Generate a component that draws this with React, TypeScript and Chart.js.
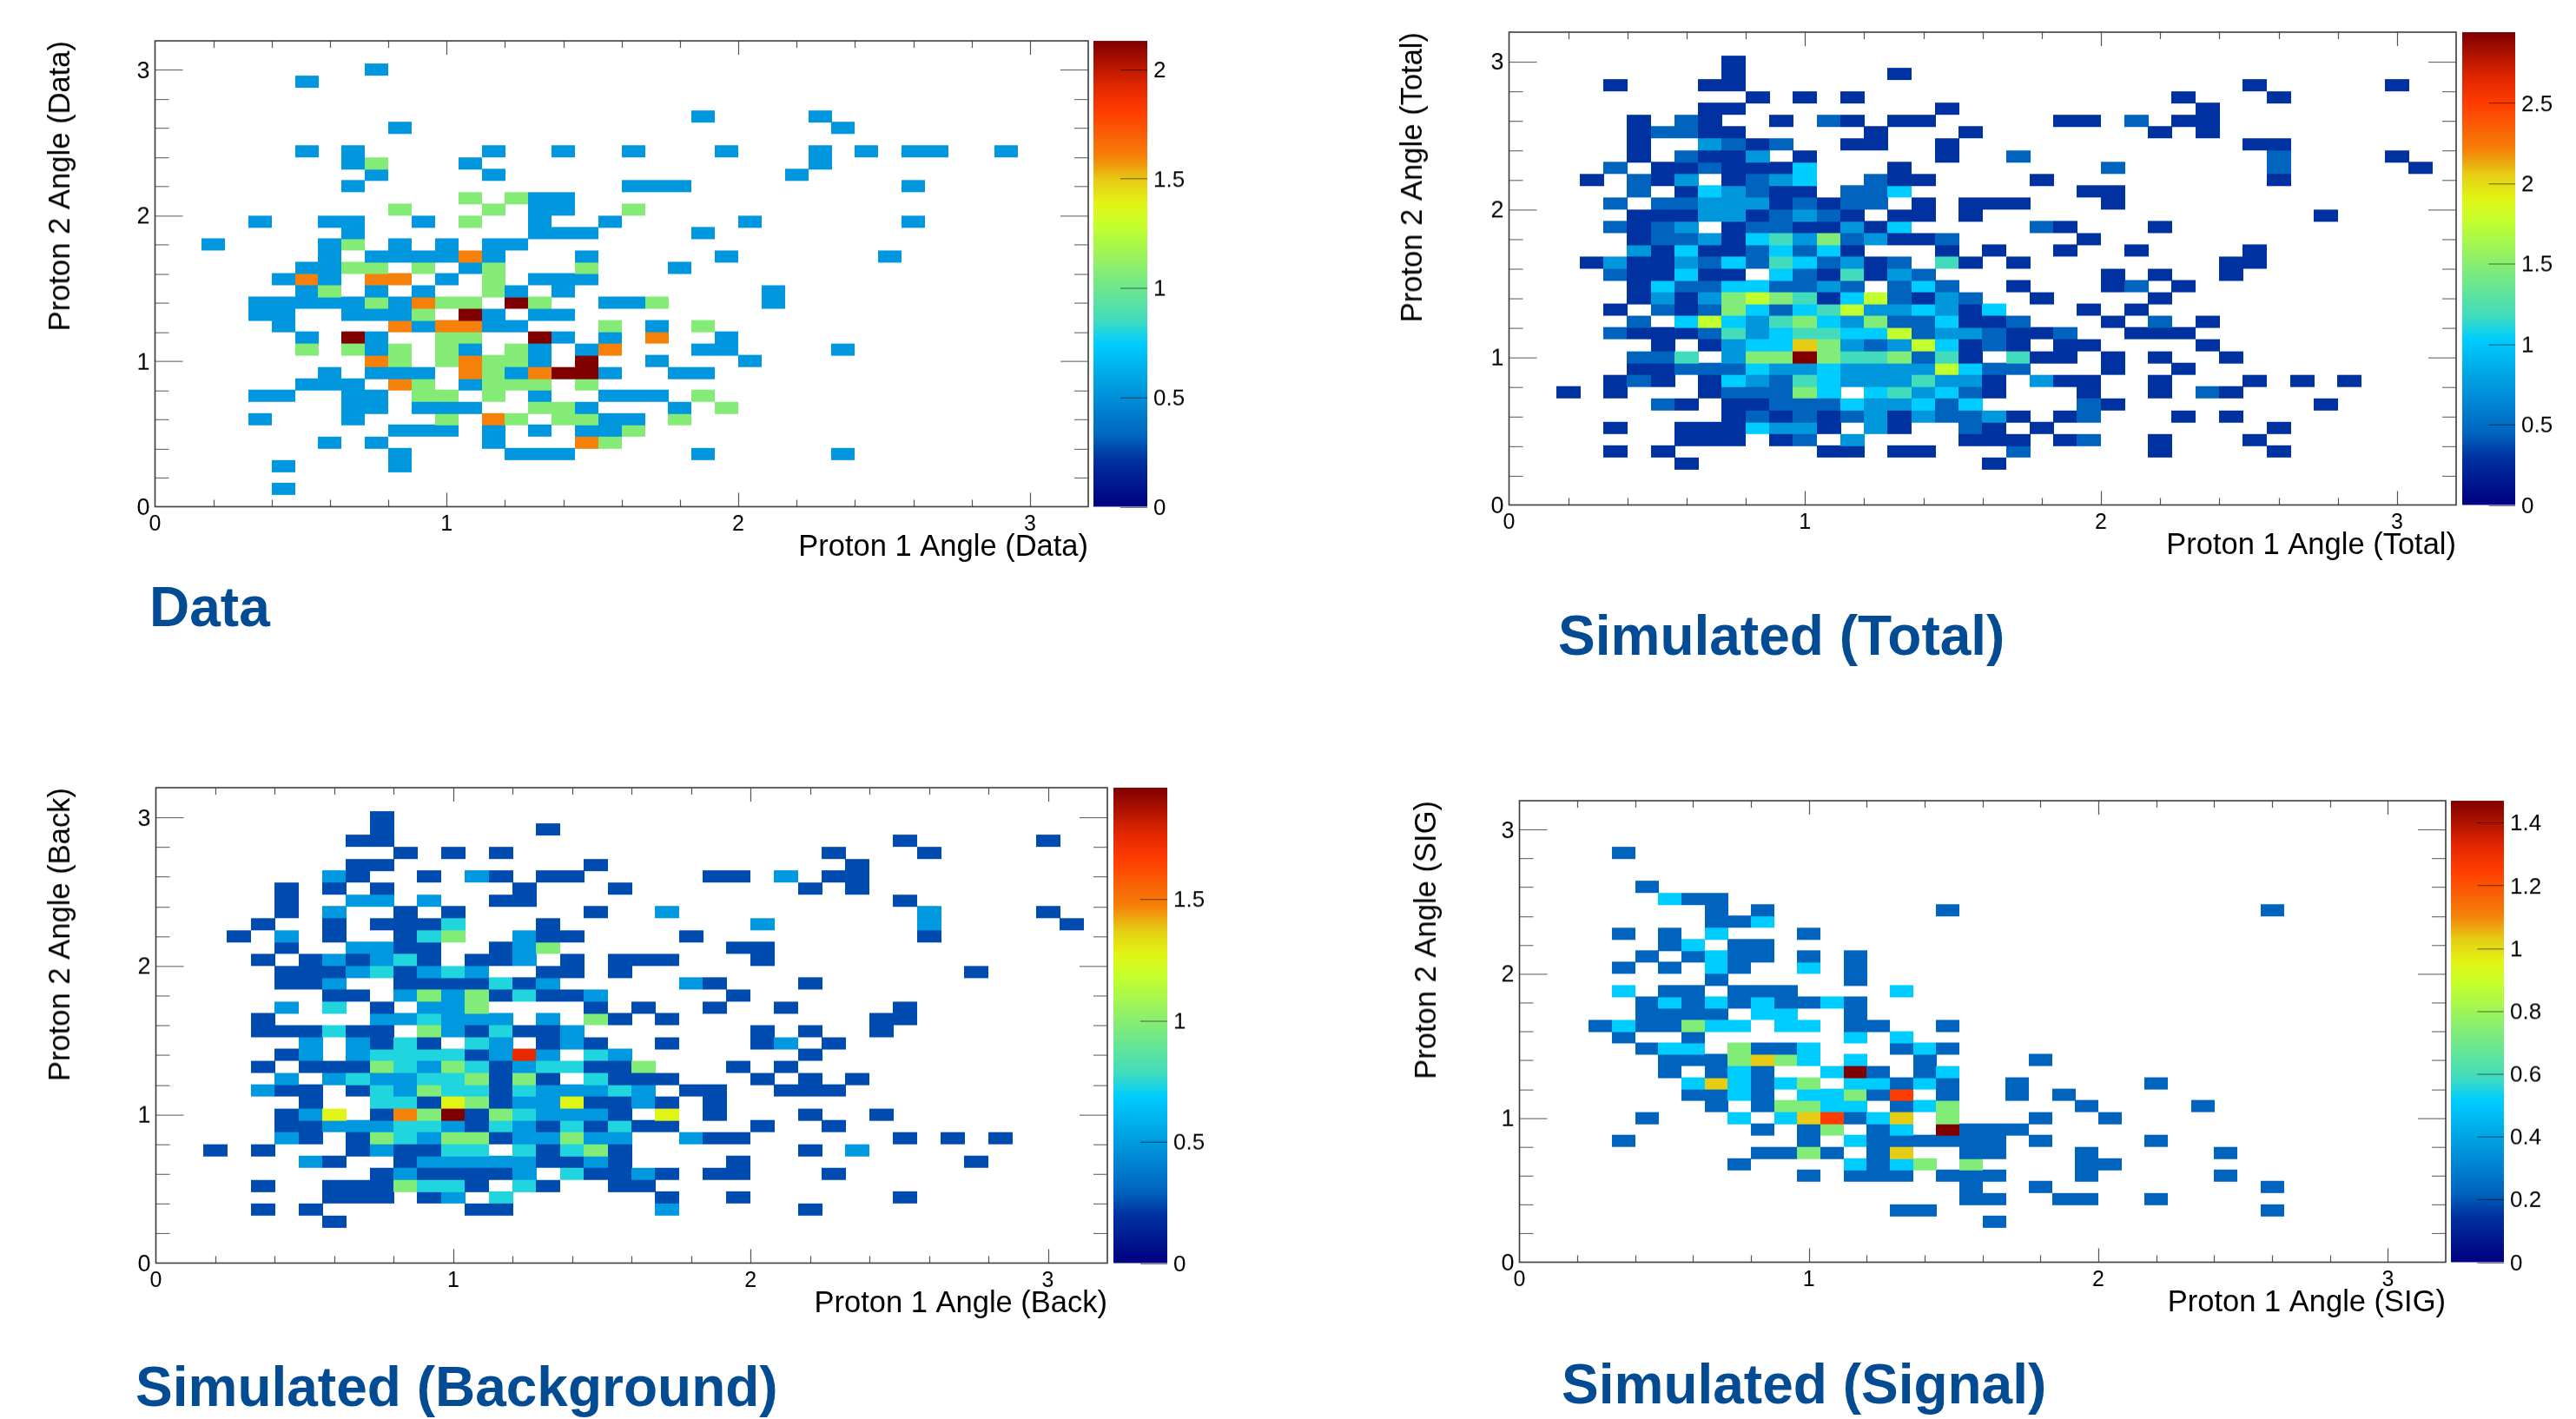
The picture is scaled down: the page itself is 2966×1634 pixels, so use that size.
import React, { useEffect, useRef } from "react";
import { Chart, registerables } from "chart.js";

Chart.register(...registerables);

// Histogram binning shared by all four panels
const binWidth = 0.08;
const axisMax = 3.2;
const axisTicks = [0, 0.2, 0.4, 0.6, 0.8, 1, 1.2, 1.4, 1.6, 1.8, 2, 2.2, 2.4, 2.6, 2.8, 3, 3.2];

// Row index (from the bottom) -> "<col or col-col><level>" tokens
const dataLevels: Record<string, number> = { a: 0.53, g: 1.07, o: 1.6, r: 2.13 };
const dataRows: Record<number, string> = {
  1: "5a",
  3: "5a 10a",
  4: "10a 15-17a 23a 29a",
  5: "7a 9a 14a 18o 19g",
  6: "10-12a 14a 16a 18-19a 20g",
  7: "4a 8a 12g 14o 15g 17-18g 19-20a 22g",
  8: "8-9a 11-13a 16-17g 18a 22a 24g",
  9: "4-5a 8-9a 11-12g 14g 16a 19-21a 23g",
  10: "6-8a 10o 11g 13a 14-16g 18g",
  11: "7a 9-11a 13o 14g 15a 16o 17-18r 19a 22-23a",
  12: "9o 10g 12g 13o 14-15g 16a 18r 21a 25a",
  13: "6g 8g 9a 10g 12g 13a 15g 16a 18a 19o 23-24a 29a",
  14: "6a 8r 9a 12-13g 16r 17a 19a 21o 24a",
  15: "5a 10o 11a 12-13o 14-15a 19g 21a 23g",
  16: "4-5a 8-10a 11g 13r 14a 16-17a",
  17: "4-8a 9g 10a 11o 12-13g 15r 16g 19-20a 21g 26a",
  18: "6a 7g 9a 11a 14g 15a 17a 26a",
  19: "5a 6o 7a 9-10o 12a 14g 16-18a",
  20: "6-7a 8-9g 11g 13a 14g 18g 22a",
  21: "7a 9-12a 13o 14a 18a 24a 31a",
  22: "2a 7a 8g 10a 12a 14-15a",
  23: "8a 16-18a 23a",
  24: "4a 7-8a 11a 13g 16a 19a 25a 32a",
  25: "10g 14g 16-17a 20g",
  26: "13g 15g 16-17a",
  27: "8a 20-22a 32a",
  28: "9a 14a 27a",
  29: "8a 9g 13a 28a",
  30: "6a 8a 14a 17a 20a 24a 28a 30a 32-33a 36a",
  32: "10a 29a",
  33: "23a 28a",
  36: "6a",
  37: "9a",
};

const totalLevels: Record<string, number> = { b: 0.29, c: 0.44, d: 0.73, e: 1.03, f: 1.18, g: 1.47, h: 1.76, i: 2.06, r: 2.94 };
const totalRows: Record<number, string> = {
  3: "7b 20b",
  4: "4b 6b 13-14b 16-17b 21c 27b 32b",
  5: "7-9b 11b 12c 14d 19-21b 23b 24c 27b 31b",
  6: "4b 7-9b 10e 11-12d 13b 15d 16b 19c 20b 22b 32b",
  7: "9b 10c 11b 12c 13b 14c 15d 16b 17d 18-19c 20d 21b 23b 24c 28b 30b",
  8: "6c 7b 9-10b 11-13c 14e 15-16d 17e 18c 19e 24c 25b 34b",
  9: "2b 4b 8b 9-11c 12g 13e 15e 16f 17d 18e 19c 20b 24b 27b 29c 30b",
  10: "4b 5c 6b 8b 9e 10d 11c 12f 13e 14-16d 17f 18-19d 20b 22d 23-24b 27b 31b 33b 35b",
  11: "5-6b 7-9c 10e 11-12d 13e 14-17d 18h 19e 20-21c 25b 28b",
  12: "5-6c 7f 9d 10-11g 12r 13g 14-15f 16g 17c 18f 19b 21f 22-23b 25b 27b 30b",
  13: "6b 8b 9d 10-11e 12i 13g 14d 15c 16d 17h 18e 19b 20c 21b 23-24b 29b",
  14: "4c 5-7b 8c 9f 10d 11e 12-13f 14-15e 16h 17c 18-19d 20c 21-22b 23c 26-28b",
  15: "5c 7e 8h 9e 10d 11f 12g 13e 14d 15g 16-17c 18e 19-20b 21c 25b 27c 29b",
  16: "4b 6c 7b 8c 9g 10e 11c 12e 13f 14h 15-16d 17e 18d 19b 20e 24b 26b",
  17: "5b 6d 7b 8d 9g 10h 11g 12f 13b 14e 15h 16c 17b 18d 19c 22b 27b",
  18: "5b 6e 7-8c 9-10e 11-12c 13d 14c 16c 17e 18c 21b 25b 26c 28b",
  19: "4c 5-6b 7e 8-9b 11e 12c 13b 14f 15b 16d 17c 25b 27b 30b",
  20: "3b 4d 5-6b 7d 8c 9e 10c 11f 12e 13c 14d 15b 16c 18f 19b 21b 30-31b",
  21: "5d 6b 7e 8-9b 10c 11e 12c 13e 14b 18b 20b 23b 26b 31b",
  22: "5b 6-7c 8d 9b 10e 11f 12d 13g 14c 15d 16-17b 18c 24b",
  23: "4c 5b 6c 7d 9b 10-11c 12-13b 14d 15b 16e 22c 23b 27b",
  24: "5-7b 8-9d 10b 11c 12d 13c 14b 16-17b 19b 34b",
  25: "4c 6-7c 8-10d 11b 12c 13b 14-15c 17b 19-21b 25b",
  26: "5c 7b 8e 9d 10c 11-12b 14-15c 16e 24-25b",
  27: "3b 5c 6b 7d 9b 10c 11d 12e 15c 16-17b 22b 32b",
  28: "4c 6-7b 8c 9-11b 12e 16b 25c 32c 38b",
  29: "5b 7c 8-9b 10d 12b 18b 21c 32c 37b",
  30: "5b 8d 9c 10b 11c 14-15b 18b 31-32b",
  31: "5b 6-7c 8-9b 15b 19b 27b 29b",
  32: "5b 7c 8b 11b 13c 14b 16-17b 23-24b 26c 28-29b",
  33: "8-9b 18b 29b",
  34: "10b 12b 14b 28b 32b",
  35: "4b 8-9b 31b 37b",
  36: "9b 16b",
  37: "9b",
};

const backLevels: Record<string, number> = { b: 0.245, d: 0.49, c: 0.735, g: 0.98, y: 1.27, o: 1.47, R: 1.76, r: 1.96 };
const backRows: Record<number, string> = {
  3: "7b",
  4: "4b 6b 13-14b 21d 27b",
  5: "7-9b 11b 12d 14c 21b 24b 31b",
  6: "4b 7-9b 10g 11-12c 13b 15c 16b 19-20b",
  7: "9b 10d 11-14b 15d 17c 18-19b 20d 21b 23-24b 28b",
  8: "6d 7b 10b 11-15d 16-17b 18d 19b 24b 34b",
  9: "2b 4b 8b 9d 10-11b 12-13c 15c 16b 17c 18g 19b 27b 29d",
  10: "5d 6b 8b 9g 10c 11d 12-13g 14b 15-16d 17g 18-19d 22d 23-24b 31b 33b 35b",
  11: "5-6b 7-9d 10-11c 12d 13b 14c 15d 16b 17c 18b 19c 20-21b 25b 28b",
  12: "5b 6d 7y 9b 10o 11g 12r 13b 14g 15c 16-18d 19b 21y 23b 27b 30b",
  13: "6b 9-10c 11b 12y 13g 14b 15-16d 17y 18-19b 20d 21b 23b",
  14: "4d 5-6b 8b 9c 10d 11g 12-13c 14b 15c 16-18d 19c 20d 22-23b 26-28b",
  15: "5d 7d 8c 9-10d 11-12c 13g 14b 15g 16b 18c 19-21b 25b 27b 29b",
  16: "4b 6-8b 9g 10c 11d 12g 13c 14b 15d 16-17c 18-19b 20g 24b 26b",
  17: "5b 6d 8d 9-12c 13b 14d 15R 16d 18c 19d 27b",
  18: "6d 8d 9b 10c 11b 13c 14d 16b 17d 18b 21b 25b 26d 28b",
  19: "4-6b 7c 8-9b 11g 12d 13b 14c 15-16b 17d 25b 27b 30b",
  20: "4b 9-10d 11c 12-14d 16d 18g 19b 21b 30-31b",
  21: "5d 7c 9b 11-12d 13g 18b 20b 23b 26b 31b",
  22: "7-8b 10d 11g 12d 13g 14b 15c 16-17b 18d 24b",
  23: "5-6b 7d 10-13b 14c 15b 16d 22d 23b 27b",
  24: "5-7b 8d 9c 10b 11d 12c 13d 16-17b 19b 34b",
  25: "4b 6b 7d 8b 9d 10c 11b 13-14b 15d 17b 19-21b 25b",
  26: "5b 8-9d 10-11b 14b 15d 16g 24-25b",
  27: "3b 5d 7b 10b 11c 12g 15d 16-17b 22b 32b",
  28: "4b 7b 9-11b 12c 16b 25d 32d 38b",
  29: "5b 7d 10b 12b 18b 21d 32d 37b",
  30: "5b 8-9d 11d 14-15b 31b",
  31: "5b 7b 9b 15b 19b 27b 29b",
  32: "7d 8b 11b 13d 14b 16-17b 23-24b 26d 28-29b",
  33: "8-9b 18b 29b",
  34: "10b 12b 14b 28b 32b",
  35: "8-9b 31b 37b",
  36: "9b 16b",
  37: "9b",
};

const signalLevels: Record<string, number> = { b: 0.22, e: 0.515, g: 0.735, i: 1.03, R: 1.25, r: 1.47 };
const signalRows: Record<number, string> = {
  3: "20b",
  4: "16-17b 32b",
  5: "19-20b 23-24b 27b",
  6: "19b 22b 32b",
  7: "12b 14-16b 18-20b 24b 30b",
  8: "9b 14e 15b 16e 17g 19g 24-25b",
  9: "10-11b 12g 13b 15b 16i 19-20b 24b 30b",
  10: "4b 12b 14e 15-20b 22b 27b",
  11: "10b 12b 13g 15b 16e 18r 19-21b",
  12: "5b 9e 11e 12i 13R 14b 15e 16i 18g 22b 25b",
  13: "8b 10b 11-12g 13-14e 16b 17e 18g 24b 29b",
  14: "7-8b 9e 10b 12-13e 14g 15b 16R 18b 21b 23b",
  15: "7e 8i 9e 10b 11e 12g 14-15e 16b 17e 18b 21b 27b",
  16: "6b 8b 9e 10b 13e 14r 15b 17b 18e",
  17: "6-8b 9g 10i 11g 12e 14e 17b 22b",
  18: "5b 6-7e 9g 10-11b 12e 16b 17e 18b",
  19: "4b 7b 14e 16e",
  20: "3b 4e 5-6b 7g 8-9e 11-12e 14-15b 18b",
  21: "5-8b 10-11e 14b",
  22: "5b 6e 7b 8e 9b 10e 11-12b 13e 14b",
  23: "4e 6-7b 9-11b 16e",
  24: "8b 14b",
  25: "4b 6b 8e 9b 12e 14b",
  26: "5b 7b 8e 9-10b 12b 14b",
  27: "6b 7e 9-10b",
  28: "4b 6b 8e 12b",
  29: "8-9b 10e",
  30: "8b 10b 18b 32b",
  31: "6e 7-8b",
  32: "5b",
  35: "4b",
};

const dataZTicks = [0, 0.5, 1, 1.5, 2];
const totalZTicks = [0, 0.5, 1, 1.5, 2, 2.5];
const backZTicks = [0, 0.5, 1, 1.5];
const signalZTicks = [0, 0.2, 0.4, 0.6, 0.8, 1, 1.2, 1.4];

// Colour palette of the z axis: position, r, g, b
const palette: number[][] = [
  [0, 0, 0, 128],
  [0.1, 0, 50, 160],
  [0.15, 0, 100, 190],
  [0.25, 0, 152, 222],
  [0.35, 0, 205, 255],
  [0.4, 65, 220, 190],
  [0.5, 130, 236, 120],
  [0.6, 195, 255, 45],
  [0.65, 225, 245, 20],
  [0.7, 230, 205, 20],
  [0.75, 245, 130, 10],
  [0.85, 255, 60, 0],
  [0.9, 230, 40, 0],
  [1, 128, 0, 0],
];

function paletteColor(t: number): string {
  const c = Math.max(0, Math.min(1, t));
  for (let k = 1; k < palette.length; k++) {
    if (c <= palette[k][0]) {
      const a = palette[k - 1];
      const b = palette[k];
      const f = (c - a[0]) / (b[0] - a[0]);
      const m = (n: number) => Math.round(a[n] + (b[n] - a[n]) * f);
      return `rgb(${m(1)},${m(2)},${m(3)})`;
    }
  }
  return "rgb(128,0,0)";
}

function cellsFrom(rows: Record<number, string>, levels: Record<string, number>) {
  const out: { x: number; y: number; v: number }[] = [];
  for (const key of Object.keys(rows)) {
    const j = Number(key);
    for (const tok of rows[j].split(" ")) {
      const m = tok.match(/^(\d+)(?:-(\d+))?([a-zA-Z])$/);
      if (!m) continue;
      const from = Number(m[1]);
      const to = m[2] ? Number(m[2]) : from;
      for (let i = from; i <= to; i++) {
        out.push({ x: (i + 0.5) * binWidth, y: (j + 0.5) * binWidth, v: levels[m[3]] });
      }
    }
  }
  return out;
}

interface PanelSpec {
  name: string;
  rows: Record<number, string>;
  levels: Record<string, number>;
  zMax: number;
  zTicks: number[];
  left: number;
  right: number;
  top: number;
  bottom: number;
  barLeft: number;
  barRight: number;
  titleX: number;
}

const panels: PanelSpec[] = [
  { name: "Data", rows: dataRows, levels: dataLevels, zMax: 2.13, zTicks: dataZTicks, left: 178, right: 1253, top: 47, bottom: 583, barLeft: 1259, barRight: 1321, titleX: 70 },
  { name: "Total", rows: totalRows, levels: totalLevels, zMax: 2.94, zTicks: totalZTicks, left: 1737, right: 2828, top: 37, bottom: 581, barLeft: 2835, barRight: 2896, titleX: 1627 },
  { name: "Back", rows: backRows, levels: backLevels, zMax: 1.96, zTicks: backZTicks, left: 179, right: 1275, top: 907, bottom: 1454, barLeft: 1282, barRight: 1344, titleX: 70 },
  { name: "SIG", rows: signalRows, levels: signalLevels, zMax: 1.47, zTicks: signalZTicks, left: 1749, right: 2816, top: 922, bottom: 1453, barLeft: 2822, barRight: 2883, titleX: 1643 },
];

const headings = [
  { text: "Data", left: 172, top: 664 },
  { text: "Simulated (Total)", left: 1794, top: 697 },
  { text: "Simulated (Background)", left: 156, top: 1562 },
  { text: "Simulated (Signal)", left: 1798, top: 1559 },
];

const FONT = "'Liberation Sans', Arial, sans-serif";
const X_TICK_SIZE = 25;
const Y_TICK_SIZE = 27;
const Z_TICK_SIZE = 26;
const TITLE_SIZE = 34.5;
const INK = "#3a3a3a";

function sprite(w: number, h: number, color: string) {
  const c = document.createElement("canvas");
  c.width = w;
  c.height = h;
  const g = c.getContext("2d")!;
  g.fillStyle = color;
  g.fillRect(0, 0, w, h);
  return c;
}

function Panel({ spec }: { spec: PanelSpec }) {
  const ref = useRef<HTMLCanvasElement>(null);
  const padTop = 14;
  const padRight = 6;
  const band = Math.round(TITLE_SIZE * 1.2);
  const xBand = 47 + band / 2;
  const yBand = spec.left - (spec.titleX - band / 2);
  const zBand = spec.barRight + 70 - spec.right;
  const width = yBand + (spec.right - spec.left) + zBand + padRight;
  const height = padTop + (spec.bottom - spec.top) + xBand;

  useEffect(() => {
    const cellW = Math.ceil((spec.right - spec.left) / (axisMax / binWidth));
    const cellH = Math.ceil((spec.bottom - spec.top) / (axisMax / binWidth));
    const cache: Record<string, HTMLCanvasElement> = {};
    const colorOf = (v: number) => paletteColor(v / spec.zMax);
    const spriteOf = (v: number) => {
      const col = colorOf(v);
      return cache[col] || (cache[col] = sprite(cellW, cellH, col));
    };

    const fixed = (size: number, prop: "width" | "height") => (s: any) => {
      s[prop] = size;
      s.paddingLeft = s.paddingRight = s.paddingTop = s.paddingBottom = 0;
    };
    const axisLabel = (v: number | string) => (Number.isInteger(Number(v)) ? String(v) : "");
    const setTicks = (list: number[]) => (s: any) => {
      s.ticks = list.map((value) => ({ value }));
    };

    const frame = {
      id: "rootFrame",
      afterDatasetsDraw(chart: any) {
        const { ctx, chartArea: a, scales } = chart;
        const bar0 = spec.barLeft - spec.right + a.right;
        const barW = spec.barRight - spec.barLeft;
        ctx.save();
        // colour bar
        const grad = ctx.createLinearGradient(0, a.bottom, 0, a.top);
        palette.forEach((p) => grad.addColorStop(p[0], `rgb(${p[1]},${p[2]},${p[3]})`));
        ctx.fillStyle = grad;
        ctx.fillRect(bar0, a.top, barW, a.bottom - a.top);
        ctx.strokeStyle = "rgba(0,0,0,0.55)";
        ctx.lineWidth = 1.2;
        ctx.beginPath();
        for (const t of spec.zTicks) {
          const py = Math.round(scales.z.getPixelForValue(t)) + 0.5;
          ctx.moveTo(bar0 + barW, py);
          ctx.lineTo(bar0 + barW / 2, py);
        }
        ctx.stroke();
        // ticks on all four sides, pointing inward
        ctx.strokeStyle = "#555";
        ctx.lineWidth = 1.2;
        ctx.beginPath();
        for (const t of axisTicks) {
          if (t <= 0 || t >= axisMax) continue;
          const major = Number.isInteger(t);
          const px = Math.round(scales.x.getPixelForValue(t)) + 0.5;
          const lx = major ? 16 : 8;
          ctx.moveTo(px, a.bottom);
          ctx.lineTo(px, a.bottom - lx);
          ctx.moveTo(px, a.top);
          ctx.lineTo(px, a.top + lx);
          const py = Math.round(scales.y.getPixelForValue(t)) + 0.5;
          const ly = major ? 32 : 16;
          ctx.moveTo(a.left, py);
          ctx.lineTo(a.left + ly, py);
          ctx.moveTo(a.right, py);
          ctx.lineTo(a.right - ly, py);
        }
        ctx.stroke();
        ctx.strokeStyle = INK;
        ctx.lineWidth = 1.6;
        ctx.strokeRect(a.left, a.top, a.right - a.left, a.bottom - a.top);
        ctx.restore();
      },
    };

    const chart = new Chart(ref.current!, {
      type: "scatter",
      data: {
        datasets: [
          {
            label: spec.name,
            data: cellsFrom(spec.rows, spec.levels) as any,
            pointRadius: 10,
            pointBorderWidth: 0,
            pointStyle: ((c: any) => spriteOf(c.raw.v)) as any,
            backgroundColor: ((c: any) => (c.raw ? colorOf(c.raw.v) : "#000")) as any,
          },
        ],
      },
      options: {
        responsive: false,
        animation: false,
        events: [],
        layout: { padding: { top: padTop, right: padRight, left: 0, bottom: 0 } },
        plugins: { legend: { display: false }, tooltip: { enabled: false } },
        scales: {
          x: {
            type: "linear",
            min: 0,
            max: axisMax,
            afterBuildTicks: setTicks(axisTicks),
            afterFit: fixed(xBand, "height"),
            grid: { display: false, drawTicks: false },
            border: { display: false },
            ticks: { callback: axisLabel, autoSkip: false, maxRotation: 0, padding: 6, color: "#000", font: { family: FONT, size: X_TICK_SIZE } },
            title: { display: true, text: `Proton 1 Angle (${spec.name})`, align: "end", padding: 0, color: "#000", font: { family: FONT, size: TITLE_SIZE } },
          },
          y: {
            type: "linear",
            min: 0,
            max: axisMax,
            afterBuildTicks: setTicks(axisTicks),
            afterFit: fixed(yBand, "width"),
            grid: { display: false, drawTicks: false },
            border: { display: false },
            ticks: { callback: axisLabel, autoSkip: false, padding: 6, labelOffset: 2, color: "#000", font: { family: FONT, size: Y_TICK_SIZE } },
            title: { display: true, text: `Proton 2 Angle (${spec.name})`, align: "end", padding: 0, color: "#000", font: { family: FONT, size: TITLE_SIZE } },
          },
          z: {
            type: "linear",
            position: "right",
            min: 0,
            max: spec.zMax,
            afterBuildTicks: setTicks(spec.zTicks),
            afterFit: fixed(zBand, "width"),
            grid: { display: false, drawTicks: false },
            border: { display: false },
            ticks: { autoSkip: false, padding: spec.barRight - spec.right + 7, labelOffset: 2, color: "#000", font: { family: FONT, size: Z_TICK_SIZE }, callback: (v: any) => String(v) },
          },
        },
      } as any,
      plugins: [frame as any],
    });
    return () => chart.destroy();
  }, [spec]);

  return (
    <canvas
      ref={ref}
      width={width}
      height={height}
      style={{ position: "absolute", left: spec.left - yBand, top: spec.top - padTop, width, height }}
    />
  );
}

export default function App() {
  return (
    <div style={{ position: "absolute", left: 0, top: 0, width: 2966, height: 1634, background: "#fff", overflow: "hidden" }}>
      {panels.map((p) => (
        <Panel key={p.name} spec={p} />
      ))}
      {headings.map((h) => (
        <div
          key={h.text}
          style={{ position: "absolute", left: h.left, top: h.top, fontFamily: FONT, fontWeight: 700, fontSize: 64, lineHeight: "70px", color: "#034c94", whiteSpace: "nowrap" }}
        >
          {h.text}
        </div>
      ))}
    </div>
  );
}
